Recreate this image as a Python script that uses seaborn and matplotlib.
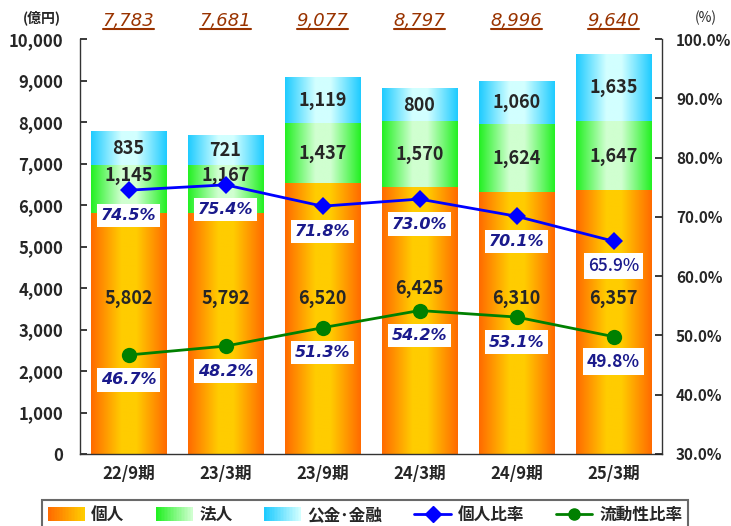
import numpy as np
import pandas as pd
import matplotlib
matplotlib.use("Agg")
import matplotlib.pyplot as plt
import seaborn as sns
from matplotlib.legend_handler import HandlerBase
from matplotlib.patches import Rectangle, Patch
from matplotlib.lines import Line2D
from matplotlib.colors import to_rgb

# ---------------- data ----------------
periods = ["22/9期", "23/3期", "23/9期", "24/3期", "24/9期", "25/3期"]
kojin = [5802, 5792, 6520, 6425, 6310, 6357]          # 個人
hojin = [1145, 1167, 1437, 1570, 1624, 1647]          # 法人
kokin = [835, 721, 1119, 800, 1060, 1635]             # 公金・金融
totals = [7783, 7681, 9077, 8797, 8996, 9640]
kojin_ratio = [74.5, 75.4, 71.8, 73.0, 70.1, 65.9]    # 個人比率 (%)
liquidity_ratio = [46.7, 48.2, 51.3, 54.2, 53.1, 49.8]  # 流動性比率 (%)

sns.set_theme(style="white")
plt.rcParams["font.family"] = ["Noto Sans CJK JP", "DejaVu Sans"]

W, H = 731, 526
fig = plt.figure(figsize=(W / 100, H / 100), dpi=100)
ax = fig.add_axes([80 / W, 1 - 454 / H, (662 - 80) / W, (454 - 39) / H])

df = pd.DataFrame({"period": periods, "kojin": kojin, "hojin": hojin, "kokin": kokin})
df["lvl1"] = df["kojin"]
df["lvl2"] = df["kojin"] + df["hojin"]
df["lvl3"] = df["lvl2"] + df["kokin"]

grads = {
    "lvl3": ("#1ECBFF", "#D2FFFF"),
    "lvl2": ("#22F022", "#D0FFD0"),
    "lvl1": ("#FF6A00", "#FFCC00"),
}


def grad_img(edge, center, n=256):
    x = np.linspace(0, 1, n)
    t = 1 - np.abs(2 * x - 1)
    t = np.clip(t * 1.25, 0, 1)
    e = np.array(to_rgb(edge))
    c = np.array(to_rgb(center))
    img = e[None, :] + (c - e)[None, :] * t[:, None]
    return img[None, :, :]


layer_patches = {}
for col in ["lvl3", "lvl2", "lvl1"]:
    n0 = len(ax.patches)
    sns.barplot(data=df, x="period", y=col, order=periods, color=grads[col][0],
                width=0.78, ax=ax, errorbar=None)
    layer_patches[col] = ax.patches[n0:]

lower = {"lvl3": "lvl2", "lvl2": "lvl1", "lvl1": None}
for col, plist in layer_patches.items():
    for i, p in enumerate(plist):
        x0, w, top = p.get_x(), p.get_width(), p.get_height()
        bot = layer_patches[lower[col]][i].get_height() if lower[col] else 0
        ax.imshow(grad_img(*grads[col]), extent=(x0, x0 + w, bot, top),
                  aspect="auto", zorder=2, interpolation="bilinear")
        p.set_visible(False)

ax.set_xlim(-0.5, len(periods) - 0.5)
ax.set_ylim(0, 10000)
ax.set_yticks(np.arange(0, 10001, 1000))
ax.set_yticklabels([f"{v:,}" for v in range(0, 10001, 1000)], fontweight="bold")
ax.set_xlabel("")
ax.set_ylabel("")
ax.set_xticks(np.arange(len(periods)))
ax.set_xticklabels(periods, fontweight="bold")
ax.set_xticks(np.arange(-0.5, len(periods), 1), minor=True)
ax.tick_params(axis="x", which="major", length=0, pad=8, labelsize=12)
ax.tick_params(axis="x", which="minor", direction="in", length=5, color="#555555")
ax.tick_params(axis="y", direction="in", length=5, labelsize=12, pad=12, color="#222222", left=True)
for s in ["top", "right"]:
    ax.spines[s].set_visible(False)
for s in ["left", "bottom"]:
    ax.spines[s].set_color("#333333")
    ax.spines[s].set_linewidth(1.0)

# bar value labels
for i in range(len(periods)):
    k_y = 3750 if i != 3 else 4000
    ax.text(i, k_y, f"{kojin[i]:,}", ha="center", va="center", fontsize=13,
            fontweight="bold", zorder=3)
    hc = kojin[i] + hojin[i] / 2
    if i < 2:
        hc += 330
    ax.text(i, hc, f"{hojin[i]:,}", ha="center", va="center", fontsize=13,
            fontweight="bold", zorder=3)
    pc = kojin[i] + hojin[i] + kokin[i] / 2
    ax.text(i, pc, f"{kokin[i]:,}", ha="center", va="center", fontsize=13,
            fontweight="bold", zorder=3)
    ax.text(i, 10220, f"{totals[i]:,}", ha="center", va="bottom", fontsize=13,
            color="#993300", fontstyle="italic", family="DejaVu Sans", zorder=3)

# ratios on right axis
ax2 = ax.twinx()
ax2.set_ylim(30, 100)
xs = np.arange(len(periods))
sns.lineplot(x=xs, y=kojin_ratio, ax=ax2, color="#0000FF", marker="D",
             markersize=9, linewidth=2, markeredgewidth=0)
sns.lineplot(x=xs, y=liquidity_ratio, ax=ax2, color="#008000", marker="o",
             markersize=11, linewidth=2, markeredgewidth=0)
ax2.set_yticks(np.arange(30, 101, 10))
ax2.set_yticklabels([f"{v:.1f}%" for v in range(30, 101, 10)], fontweight="bold")
ax2.tick_params(axis="y", direction="in", length=5, labelsize=11, pad=10, color="#222222", right=True)
ax2.set_xlabel("")
ax2.set_ylabel("")
for s in ["top", "left", "bottom"]:
    ax2.spines[s].set_visible(False)
ax2.spines["right"].set_color("#333333")
ax2.spines["right"].set_linewidth(1.0)
ax2.set_xlim(-0.5, len(periods) - 0.5)

lab_kw = dict(textcoords="offset points", ha="center", va="center", color="#1A1A8C",
              bbox=dict(fc="white", ec="none", pad=3), zorder=5)
italic_kw = dict(fontsize=11.5, fontstyle="italic", fontweight="bold", family="DejaVu Sans")
last = len(periods) - 1
for i in range(len(periods)):
    if i == last:
        ax2.annotate(f"{kojin_ratio[i]:.1f}%", (i, kojin_ratio[i]), xytext=(0, -18),
                     fontsize=12.5, fontweight="medium", **lab_kw)
        ax2.annotate(f"{liquidity_ratio[i]:.1f}%", (i, liquidity_ratio[i]), xytext=(0, -18),
                     fontsize=12.5, fontweight="bold", **lab_kw)
    else:
        ax2.annotate(f"{kojin_ratio[i]:.1f}%", (i, kojin_ratio[i]), xytext=(0, -18),
                     **italic_kw, **lab_kw)
        ax2.annotate(f"{liquidity_ratio[i]:.1f}%", (i, liquidity_ratio[i]), xytext=(0, -18),
                     **italic_kw, **lab_kw)

fig.text(42 / W, 1 - 18 / H, "(億円)", ha="center", va="center", fontsize=10, fontweight="bold")
fig.text(706 / W, 1 - 18 / H, "(%)", ha="center", va="center", fontsize=10)

# underline totals
fig.canvas.draw()
r = fig.canvas.get_renderer()
for t in ax.texts:
    if t.get_color() == "#993300":
        bb = t.get_window_extent(r)
        y = bb.y0 + 1
        fig.add_artist(Line2D([bb.x0 / W, bb.x1 / W], [y / H, y / H], color="#993300", lw=1.5))


# legend
class GradHandler(HandlerBase):
    def __init__(self, edge, center):
        super().__init__()
        self.edge = np.array(to_rgb(edge))
        self.center = np.array(to_rgb(center))

    def create_artists(self, legend, orig_handle, xdescent, ydescent, width, height, fontsize, trans):
        n = 24
        arts = []
        for k in range(n):
            t = k / (n - 1)
            c = self.edge + (self.center - self.edge) * t
            arts.append(Rectangle((-xdescent + k * width / n, -ydescent), width / n + 0.3, height,
                                  facecolor=c, edgecolor="none", transform=trans))
        return arts


h1, h2, h3 = Patch(), Patch(), Patch()
handles = [h1, h2, h3,
           Line2D([], [], color="#0000FF", marker="D", markersize=8, lw=2),
           Line2D([], [], color="#008000", marker="o", markersize=8, lw=2)]
labels = ["個人", "法人", "公金･金融", "個人比率", "流動性比率"]
leg = fig.legend(handles, labels, loc="upper left",
                 bbox_to_anchor=(42 / W, 1 - 500 / H, 646 / W, 0), bbox_transform=fig.transFigure,
                 mode="expand", ncol=5, frameon=True, fancybox=False, edgecolor="#444444",
                 handlelength=2.2, handleheight=0.9, handletextpad=0.4, borderpad=0.35,
                 borderaxespad=0,
                 prop={"weight": "bold", "size": 12},
                 handler_map={h1: GradHandler("#FF6A00", "#FFCC00"),
                              h2: GradHandler("#22F022", "#D0FFD0"),
                              h3: GradHandler("#1ECBFF", "#D2FFFF")})
leg.get_frame().set_linewidth(1.5)

fig.savefig("out.png", dpi=100)
